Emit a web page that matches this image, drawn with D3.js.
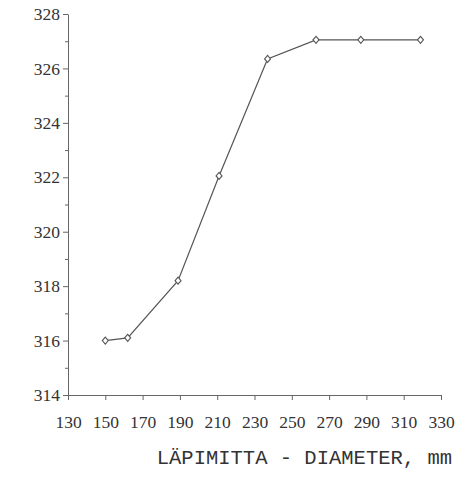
<!doctype html>
<html>
<head>
  <meta charset="UTF-8">
  <title>Diameter chart</title>
  <script src="https://d3js.org/d3.v7.min.js"></script>
  <style>
    body { margin: 0; background: #fff; }
  </style>
</head>
<body>
  <script>
    var diameter = [150, 162, 189, 211, 237, 263, 287, 319];
    var value = [316.0, 316.1, 318.2, 322.05, 326.35, 327.05, 327.05, 327.05];
    var xTicks = [130, 150, 170, 190, 210, 230, 250, 270, 290, 310, 330];
    var yTicks = [314, 316, 318, 320, 322, 324, 326, 328];
    var yMinor = [315, 317, 319, 321, 323, 325, 327];
    var xTitle = "LÄPIMITTA - DIAMETER, mm";

    var serif = "'Liberation Serif', 'DejaVu Serif', serif";
    var mono = "'Liberation Mono', 'DejaVu Sans Mono', monospace";

    var w = 474, h = 479;
    var svg = d3.select("body").append("svg")
      .attr("width", w)
      .attr("height", h);

    var x = d3.scaleLinear().domain([130, 330]).range([68, 441]);
    var y = d3.scaleLinear().domain([314, 328]).range([395, 14]);

    // minor ticks on y axis
    svg.append("g")
      .attr("transform", "translate(" + x(130) + ",0)")
      .call(d3.axisLeft(y).tickValues(yMinor).tickSize(3).tickFormat(""))
      .call(function(g) { g.select(".domain").remove(); })
      .selectAll("line").attr("stroke", "#666");

    var ya = svg.append("g")
      .attr("transform", "translate(" + x(130) + ",0)")
      .call(d3.axisLeft(y).tickValues(yTicks).tickSize(5).tickSizeOuter(0).tickPadding(3));
    ya.selectAll("text").style("font-family", serif).style("font-size", "17.5px").attr("fill", "#333");
    ya.selectAll("line, path").attr("stroke", "#666");

    var xa = svg.append("g")
      .attr("transform", "translate(0," + y(314) + ")")
      .call(d3.axisBottom(x).tickValues(xTicks).tickSize(5).tickSizeOuter(0).tickPadding(16));
    xa.selectAll("text").style("font-family", serif).style("font-size", "17.5px").attr("fill", "#333");
    xa.selectAll("line, path").attr("stroke", "#666");

    svg.append("text")
      .attr("x", 452)
      .attr("y", 464)
      .attr("text-anchor", "end")
      .style("font-family", mono)
      .style("font-size", "20.5px")
      .attr("fill", "#333")
      .text(xTitle);

    var pts = diameter.map(function(d, i) { return [d, value[i]]; });

    var line = d3.line()
      .x(function(d) { return x(d[0]); })
      .y(function(d) { return y(d[1]); });

    svg.append("path")
      .datum(pts)
      .attr("d", line)
      .attr("fill", "none")
      .attr("stroke", "#555")
      .attr("stroke-width", 1.2);

    svg.selectAll(".pt")
      .data(pts)
      .enter().append("path")
      .attr("class", "pt")
      .attr("transform", function(d) { return "translate(" + x(d[0]) + "," + y(d[1]) + ")"; })
      .attr("d", "M0,-3.5L3,0L0,3.5L-3,0Z")
      .attr("fill", "#fff")
      .attr("stroke", "#555")
      .attr("stroke-width", 1.1);
  </script>
</body>
</html>
